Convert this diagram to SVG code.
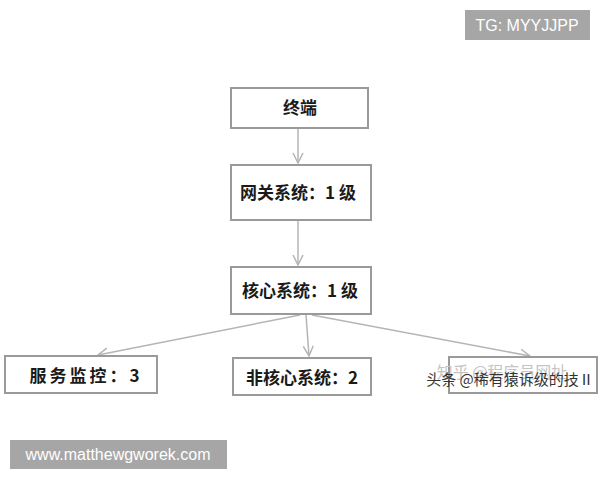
<svg xmlns="http://www.w3.org/2000/svg" width="600" height="480" viewBox="0 0 600 480">
<defs>
<marker id="ah" viewBox="0 0 12 12" refX="11" refY="6" markerWidth="12" markerHeight="12" markerUnits="userSpaceOnUse" orient="auto">
<path d="M1,1 L11,6 L1,11" fill="none" stroke="#b5b5b5" stroke-width="1.5"/>
</marker>
</defs>
<style>
.box{fill:#fff;stroke:#9a9a9a;stroke-width:2}
.t{font-family:"Noto Sans CJK SC","Liberation Sans",sans-serif;font-weight:bold;font-size:17px;fill:#1a1a1a;text-anchor:middle}
.c{stroke:#b5b5b5;stroke-width:1.5;fill:none;marker-end:url(#ah)}
.wm{fill:#a6a6a6}
.wt{font-family:"Liberation Sans",sans-serif;font-size:16px;fill:#fff;text-anchor:middle}
</style>
<rect width="600" height="480" fill="#fff"/>
<g id="connectors">
<line class="c" x1="298" y1="129" x2="298" y2="163"/>
<line class="c" x1="298" y1="221" x2="298" y2="265"/>
<line class="c" x1="300" y1="315" x2="98" y2="355"/>
<line class="c" x1="306" y1="315" x2="309" y2="356"/>
<line class="c" x1="312" y1="315" x2="530" y2="356"/>
</g>
<g id="n1"><rect class="box" x="231" y="88" width="137" height="40"/><text class="t" x="300" y="114">终端</text></g>
<g id="n2"><rect class="box" x="231" y="165" width="140" height="55"/><text class="t" x="298" y="199">网关系统：1 级</text></g>
<g id="n3"><rect class="box" x="231" y="267" width="140" height="47"/><text class="t" x="300" y="297">核心系统：1 级</text></g>
<g id="n4"><rect class="box" x="5" y="356" width="152" height="37"/><text class="t" x="86" y="382" letter-spacing="3">服务监控：3</text></g>
<g id="n5"><rect class="box" x="233" y="358" width="138" height="37"/><text class="t" x="302" y="384">非核心系统：2</text></g>
<g id="n6"><rect class="box" x="449" y="357" width="148" height="36"/>
<text x="502" y="378" font-family="Noto Sans CJK SC,sans-serif" font-size="16" fill="#c4c4c4" text-anchor="middle">知乎 @程序员网址</text>
<text x="510" y="385" font-family="Noto Sans CJK SC,sans-serif" font-size="15" fill="#333" text-anchor="middle">头条 @稀有猿诉级的技Ⅱ</text></g>
<g id="wm1"><rect class="wm" x="465" y="10" width="125" height="30"/><text class="wt" x="527" y="31">TG: MYYJJPP</text></g>
<g id="wm2"><rect class="wm" x="10" y="440" width="217" height="29"/><text class="wt" x="118" y="460" font-size="17">www.matthewgworek.com</text></g>
</svg>
